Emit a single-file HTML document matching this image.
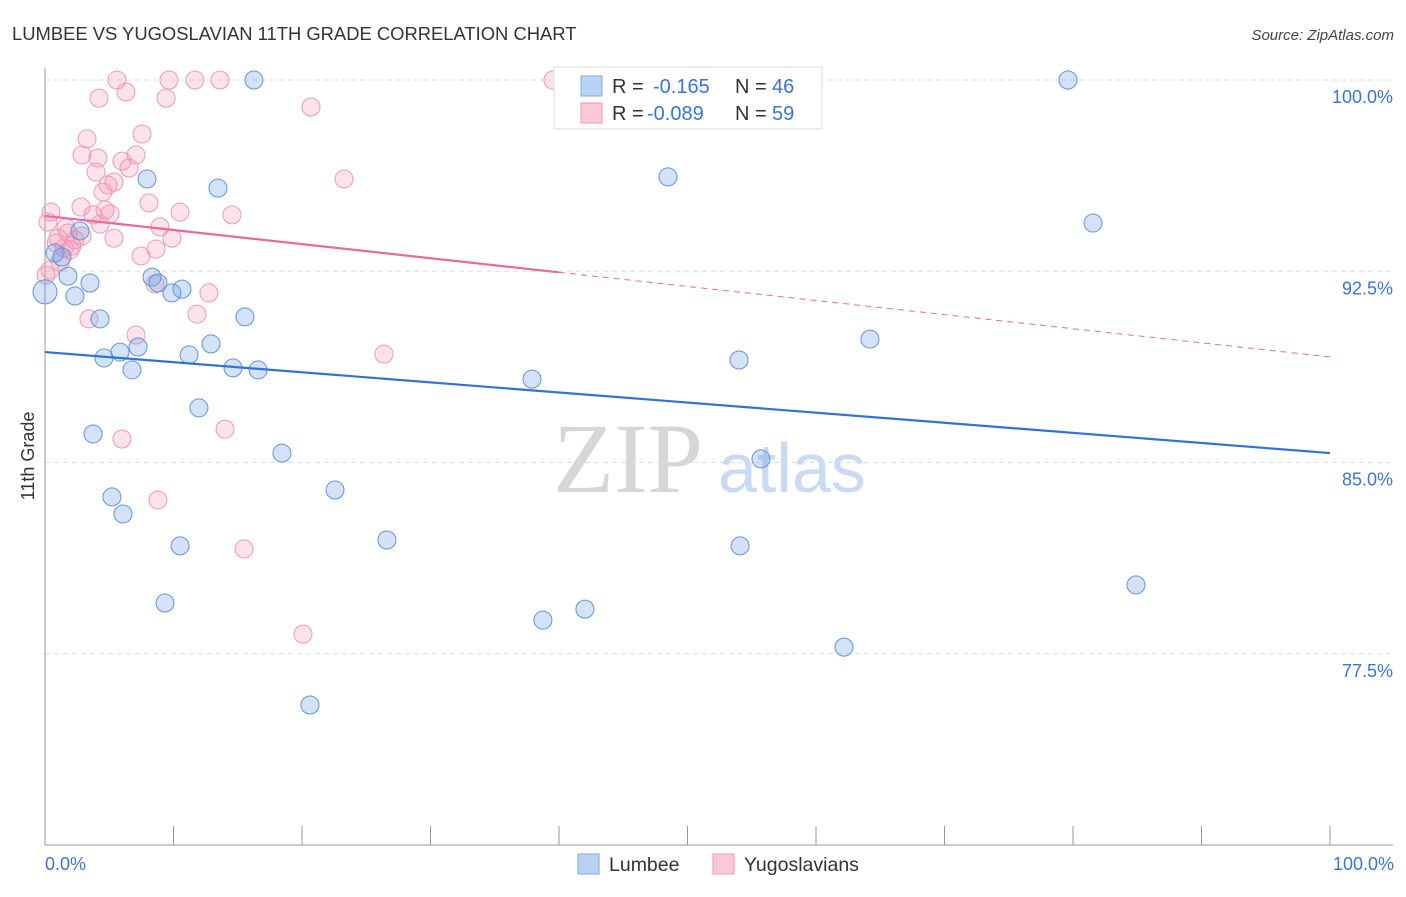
<!DOCTYPE html>
<html><head><meta charset="utf-8"><style>
body{margin:0;background:#fff;font-family:"Liberation Sans",sans-serif;}
svg text{font-family:"Liberation Sans",sans-serif;}
svg text.serif{font-family:"Liberation Serif",serif;}
</style></head><body>
<svg id="chart" width="1406" height="892" viewBox="0 0 1406 892" xmlns="http://www.w3.org/2000/svg">
<text x="12" y="40" font-size="18.4" fill="#333">LUMBEE VS YUGOSLAVIAN 11TH GRADE CORRELATION CHART</text>
<text x="1394" y="40" font-size="15" fill="#444" text-anchor="end" font-style="italic">Source: ZipAtlas.com</text>
<g>
<text class="serif" x="553" y="492" font-size="100" fill="#d6d6d6">ZIP</text>
<text x="718" y="492" font-size="70" fill="#c9daf2">atlas</text>
</g>
<g id="grid"></g>
<line x1="45" y1="68" x2="45" y2="845" stroke="#999" stroke-width="1"/>
<line x1="45" y1="845" x2="1393" y2="845" stroke="#999" stroke-width="1"/>
<text transform="translate(34,456) rotate(-90)" font-size="18" fill="#333" text-anchor="middle">11th Grade</text>
<text x="45" y="870" font-size="18" fill="#3b74d6">0.0%</text>
<text x="1394" y="870" font-size="18" fill="#3b74d6" text-anchor="end">100.0%</text>
<g id="marks"></g>
<g>
<rect x="554" y="67" width="268" height="62" fill="#fff" stroke="#ddd"/>
<rect x="581" y="76" width="21" height="20" fill="#b9d3f5" stroke="#7ea8e6"/>
<rect x="581" y="103" width="21" height="20" fill="#fbc8d7" stroke="#ee9ab4"/>
<text x="612" y="93" font-size="20" fill="#333">R =</text>
<text x="653" y="93" font-size="20" fill="#3b74d6">-0.165</text>
<text x="735" y="93" font-size="20" fill="#333">N =</text>
<text x="772" y="93" font-size="20" fill="#3b74d6">46</text>
<text x="612" y="120" font-size="20" fill="#333">R =</text>
<text x="647" y="120" font-size="20" fill="#3b74d6">-0.089</text>
<text x="735" y="120" font-size="20" fill="#333">N =</text>
<text x="772" y="120" font-size="20" fill="#3b74d6">59</text>
</g>
<g>
<rect x="578" y="854" width="21" height="20" fill="#b9d3f5" stroke="#7ea8e6"/>
<text x="609" y="871" font-size="19.5" fill="#333">Lumbee</text>
<rect x="713" y="854" width="21" height="20" fill="#fbc8d7" stroke="#ee9ab4"/>
<text x="744" y="871" font-size="19.5" fill="#333">Yugoslavians</text>
</g>
</svg>
<script>
const yTicks=[100,92.5,85,77.5];
const yTickLabels=["100.0%","92.5%","85.0%","77.5%"];
const xTicks=[0,10,20,30,40,50,60,70,80,90,100];
const lumbeeX=[0,0.78,1.32,1.79,2.33,2.72,3.5,3.74,4.28,4.59,5.21,5.84,6.07,6.77,7.24,7.94,8.33,8.79,9.34,9.88,10.51,10.66,11.21,11.98,12.92,13.46,14.63,15.56,16.26,16.58,18.44,20.62,22.57,26.61,37.9,38.75,42.02,48.48,54.01,54.09,55.72,62.18,64.2,79.61,81.56,84.9];
const lumbeeY=[91.69,93.22,93.06,92.31,91.53,94.08,92.04,86.12,90.63,89.1,83.65,89.33,82.98,88.63,89.53,96.12,92.27,92.04,79.49,91.65,81.73,91.8,89.22,87.14,89.65,95.76,88.71,90.71,100,88.63,85.37,75.49,83.92,81.96,88.27,78.82,79.25,96.2,89.02,81.73,85.14,77.76,89.84,100,94.39,80.2];
const yugoX=[5.6,9.65,11.67,13.62,39.53,4.2,6.3,9.42,20.7,3.27,7.55,2.88,4.12,7.08,5.99,6.54,3.97,4.9,5.37,4.51,23.27,8.09,4.67,2.8,0.47,3.74,5.06,10.51,14.55,0.23,8.95,1.79,2.88,5.37,9.88,0.86,2.33,1.48,1.95,8.64,7.47,1.17,0.39,8.56,12.76,11.83,3.42,7.08,26.38,14.01,5.99,8.79,15.49,20.08,1.01,0.08,2.1,1.63,4.28];
const yugoY=[100,100,100,100,100,99.29,99.53,99.29,98.94,97.69,97.88,97.06,96.94,97.06,96.82,96.55,96.39,95.88,96,95.61,96.12,95.18,94.9,95.02,94.82,94.71,94.75,94.82,94.71,94.43,94.24,94,93.88,93.8,93.8,93.61,93.73,93.41,93.33,93.37,93.1,92.86,92.55,92,91.65,90.82,90.63,90,89.25,86.31,85.92,83.53,81.61,78.27,93.8,92.35,93.49,94.2,94.35];
const lumbeeTrend=[89.33,85.37];
const yugoTrend=[94.67,89.14];
const yugoSolidEnd=40;

const NS="http://www.w3.org/2000/svg";
const sx=v=>45+v*12.85;
const sy=v=>80+(100-v)*25.5;
const grid=document.getElementById('grid'),marks=document.getElementById('marks');
function mk(tag,attrs,parent){const e=document.createElementNS(NS,tag);for(const k in attrs)e.setAttribute(k,attrs[k]);parent.appendChild(e);return e;}
yTicks.forEach((t,i)=>{
 const l=mk('line',{x1:45,x2:1393,y1:sy(t),y2:sy(t),stroke:'#ddd','stroke-dasharray':'5,4'},grid);
 
 
 const tx=mk('text',{x:1393,y:sy(t)+23,'font-size':18,fill:'#3b74d6','text-anchor':'end'},grid);
 tx.textContent=yTickLabels[i];
 
 
});
xTicks.forEach(t=>{
 const l=mk('line',{x1:sx(t),x2:sx(t),y1:826,y2:845,stroke:'#999'},grid);
 
 
});
function pts(xs,ys,fill,stroke,name){
 xs.forEach((x,i)=>{
  const c=mk('circle',{cx:sx(x),cy:sy(ys[i]),r:(i===0&&name==='lumbee-point')?12:9,fill:fill,stroke:stroke,'stroke-width':1},marks);
  
  
 });
}
pts(yugoX,yugoY,'rgba(244,150,180,0.28)','#ec9ab4','yugoslavian-point');
pts(lumbeeX,lumbeeY,'rgba(110,160,230,0.3)','#6394dc','lumbee-point');
const lt=mk('line',{x1:sx(0),y1:sy(lumbeeTrend[0]),x2:sx(100),y2:sy(lumbeeTrend[1]),stroke:'#2f73d8','stroke-width':2.2},marks);


const yAt=x=>yugoTrend[0]+(yugoTrend[1]-yugoTrend[0])*x/100;
const ys=mk('line',{x1:sx(0),y1:sy(yugoTrend[0]),x2:sx(yugoSolidEnd),y2:sy(yAt(yugoSolidEnd)),stroke:'#e8699a','stroke-width':2.2},marks);


const yd=mk('line',{x1:sx(yugoSolidEnd),y1:sy(yAt(yugoSolidEnd)),x2:sx(100),y2:sy(yugoTrend[1]),stroke:'#e8699a','stroke-width':1,'stroke-dasharray':'6,5'},marks);


</script>
</body></html>
